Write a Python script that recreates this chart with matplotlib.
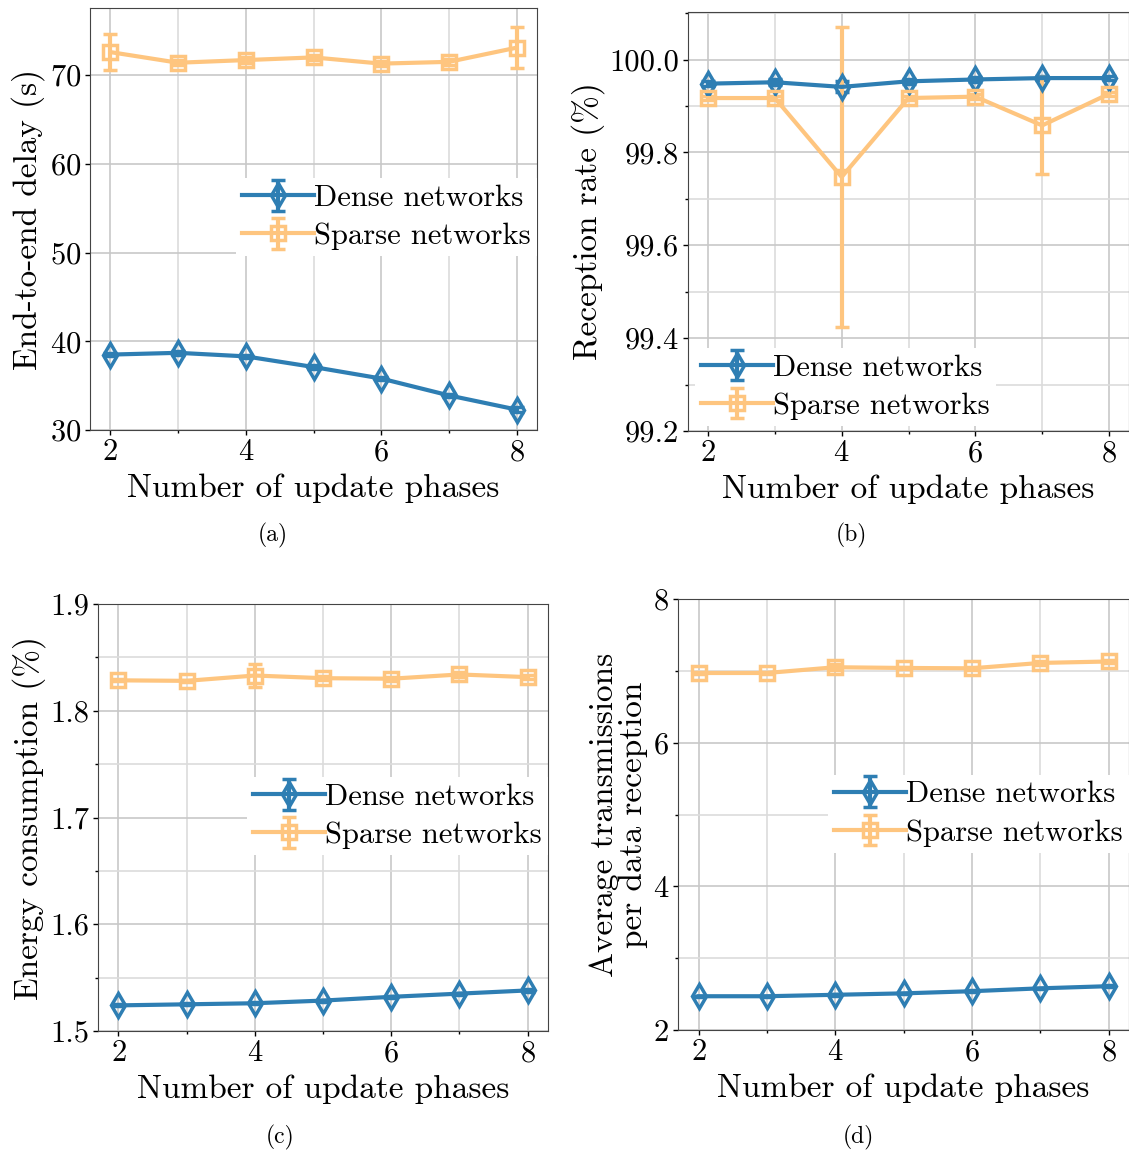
import numpy as np
import matplotlib
matplotlib.use("Agg")
import matplotlib.pyplot as plt
from matplotlib.ticker import MultipleLocator

plt.rcParams['font.family'] = ['cmr10', 'DejaVu Serif']
plt.rcParams['mathtext.fontset'] = 'cm'
plt.rcParams['axes.formatter.use_mathtext'] = True

# data
phases = [2, 3, 4, 5, 6, 7, 8]

delay_dense = [38.5, 38.7, 38.3, 37.1, 35.8, 33.9, 32.3]
delay_dense_err = [0.2, 0.2, 0.2, 0.2, 0.2, 0.2, 0.3]
delay_sparse = [72.6, 71.4, 71.7, 72.0, 71.3, 71.5, 73.1]
delay_sparse_err = [2.0, 0.3, 0.3, 0.3, 0.3, 0.3, 2.3]

rate_dense = [99.948, 99.951, 99.941, 99.953, 99.957, 99.960, 99.960]
rate_dense_err = [0.006, 0.006, 0.012, 0.006, 0.006, 0.005, 0.005]
rate_sparse = [99.917, 99.917, 99.747, 99.917, 99.920, 99.858, 99.926]
rate_sparse_err = [0.005, 0.005, 0.323, 0.005, 0.005, 0.104, 0.005]

energy_dense = [1.524, 1.525, 1.526, 1.5285, 1.532, 1.535, 1.538]
energy_dense_err = [0.001, 0.001, 0.001, 0.001, 0.001, 0.001, 0.001]
energy_sparse = [1.8285, 1.828, 1.833, 1.8305, 1.830, 1.834, 1.8315]
energy_sparse_err = [0.001, 0.001, 0.011, 0.002, 0.002, 0.002, 0.002]

tx_dense = [2.47, 2.47, 2.49, 2.51, 2.54, 2.58, 2.61]
tx_dense_err = [0.01, 0.01, 0.01, 0.01, 0.01, 0.01, 0.01]
tx_sparse = [6.97, 6.97, 7.05, 7.04, 7.035, 7.11, 7.13]
tx_sparse_err = [0.02, 0.02, 0.04, 0.02, 0.02, 0.03, 0.02]

blue = '#2e7eb3'
orange = '#fec57f'

fig = plt.figure(figsize=(11.29, 11.51), dpi=100)

# [left, bottom, width, height] in figure fraction, ylabel, ylim, major, minor, legend anchor, caption
panels = [
    dict(rect=[90/1129, 1-430/1151, 447/1129, 422/1151],
         dense=(delay_dense, delay_dense_err), sparse=(delay_sparse, delay_sparse_err),
         ylabel='End-to-end delay (s)', ybottom=30, ytop=None, major=10, minor=None,
         leg=(1.02, 0.39), cap='(a)', capx=0.41),
    dict(rect=[688/1129, 1-431/1151, 441/1129, 419/1151],
         dense=(rate_dense, rate_dense_err), sparse=(rate_sparse, rate_sparse_err),
         ylabel='Reception rate (%)', ybottom=99.2, ytop=None, major=0.2, minor=0.1,
         leg=(-0.005, -0.01), cap='(b)', capx=0.37),
    dict(rect=[98/1129, 1-1031/1151, 450/1129, 427/1151],
         dense=(energy_dense, energy_dense_err), sparse=(energy_sparse, energy_sparse_err),
         ylabel='Energy consumption (%)', ybottom=1.5, ytop=1.9, major=0.1, minor=0.05,
         leg=(1.02, 0.39), cap='(c)', capx=0.405),
    dict(rect=[678/1129, 1-1030/1151, 451/1129, 431/1151],
         dense=(tx_dense, tx_dense_err), sparse=(tx_sparse, tx_sparse_err),
         ylabel='Average transmissions\nper data reception', ybottom=2, ytop=8, major=2, minor=1,
         leg=(1.02, 0.39), cap='(d)', capx=0.4),
]

for p in panels:
    ax = fig.add_axes(p['rect'])
    d, de = p['dense']
    s, se = p['sparse']
    ax.errorbar(phases, d, yerr=de, color=blue, marker='d', markersize=12,
                markerfacecolor='none', markeredgewidth=2.5, linewidth=3,
                elinewidth=3, capsize=5, capthick=2.5, label='Dense networks', zorder=3)
    ax.errorbar(phases, s, yerr=se, color=orange, marker='s', markersize=10,
                markerfacecolor='none', markeredgewidth=2.5, linewidth=3,
                elinewidth=3, capsize=5, capthick=2.5, label='Sparse networks', zorder=3)
    ax.set_ylim(bottom=p['ybottom'])
    if p['ytop'] is not None:
        ax.set_ylim(top=p['ytop'])
    ax.xaxis.set_major_locator(MultipleLocator(2))
    ax.xaxis.set_minor_locator(MultipleLocator(1))
    ax.yaxis.set_major_locator(MultipleLocator(p['major']))
    if p['minor'] is not None:
        ax.yaxis.set_minor_locator(MultipleLocator(p['minor']))
    else:
        ax.yaxis.set_minor_locator(plt.NullLocator())
    ax.grid(which='major', color='#c8c8c8', linewidth=1.2)
    ax.grid(which='minor', color='#dcdcdc', linewidth=1.2)
    ax.set_axisbelow(True)
    ax.tick_params(labelsize=22, which='major', length=3.5, width=1, pad=3)
    ax.tick_params(which='minor', length=2, width=1)
    if p['cap'] in ('(b)', '(c)'):
        ax.yaxis.set_major_formatter(plt.FormatStrFormatter('%.1f'))
    for sp in ax.spines.values():
        sp.set_color('#444444')
    ax.set_xlabel('Number of update phases', fontsize=24, labelpad=5)
    ax.set_ylabel(p['ylabel'], fontsize=24, labelpad=3, linespacing=1.0)
    leg = ax.legend(loc='lower right' if p['cap'] != '(b)' else 'lower left',
                    bbox_to_anchor=p['leg'], fontsize=22, frameon=True,
                    framealpha=1, edgecolor='none', fancybox=False,
                    handlelength=2.35, handletextpad=0.0, borderpad=0.2,
                    labelspacing=0.35, borderaxespad=0.3)
    ax.text(p['capx'], -0.25, p['cap'], transform=ax.transAxes,
            fontsize=17, ha='center', va='center')

fig.savefig('out.png', dpi=100)
